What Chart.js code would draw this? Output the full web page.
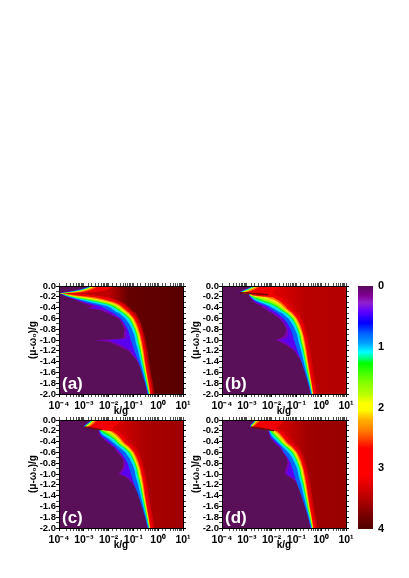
<!DOCTYPE html>
<html>
<head>
<meta charset="utf-8">
<title>Contour panels</title>
<script src="https://cdn.jsdelivr.net/npm/chart.js@4/dist/chart.umd.js"></script>
<style>
	html, body { margin: 0; padding: 0; background: #fff; }
	canvas { position: absolute; filter: blur(0.35px); }
</style>
</head>
<body>
<canvas id="panelA" style="left:0;top:276px"></canvas>
<canvas id="panelB" style="left:163px;top:276px"></canvas>
<canvas id="panelC" style="left:0;top:410px"></canvas>
<canvas id="panelD" style="left:163px;top:410px"></canvas>
<canvas id="colorBar" style="left:340px;top:276px"></canvas>
<script>
	// ===== DATA (contour positions are log10(k/g)) =====

	const rowsTop = [0, -0.03, -0.06, -0.09, -0.12, -0.135, -0.15, -0.18, -0.21, -0.26, -0.3, -0.34, -0.38, -0.41, -0.44, -0.47, -0.5];
	const rowsTail = [-0.6, -0.7, -0.8, -0.9, -0.96, -0.98, -1.0, -1.04, -1.1, -1.2, -1.4, -1.6, -1.8, -2.0];

	const bandLabels = ['P', 'V', 'B', 'C', 'G', 'L', 'Y', 'O', 'R', 'D1', 'D2'];
	const bandColors = ['#7a00b0', '#5a00f0', '#0064ff', '#00e4f0', '#10ff20', '#a0ff00', '#ffe000', '#ff7000', '#f00000'];

	// last two bands differ from panel to panel: a flat one, then a shade along k
	const darkColorA = '#b00000';
	const darkColorB = '#d80000';
	const darkColorC = '#d40000';
	const darkColorD = '#d00000';
	const shadeKA = [-2, -1.2, 0, 1];
	const shadeColorsA = ['#c00000', '#640000', '#600000', '#580000'];
	const shadeKB = [-1.6, -0.6, 1];
	const shadeColorsB = ['#d80000', '#b80000', '#b40000'];
	const shadeKC = [-1.6, -0.5, 1];
	const shadeColorsC = ['#d40000', '#aa0000', '#a00000'];
	const shadeKD = [-1.6, -0.5, 1];
	const shadeColorsD = ['#d00000', '#a00000', '#980000'];

	const aP = [-2.71, -2.88, -3.11, -3.42, -3.83, -4, -3.92, -3.78, -3.62, -3.33, -3.11, -2.92, -2.66, -2.86, -2.41, -2.21, -2.08];
	const aV = [-2.70, -2.87, -3.10, -3.40, -3.80, -4, -3.91, -3.77, -3.60, -3.27, -3.02, -2.75, -2.48, -2.75, -2.21, -2.01, -1.92];
	const aB = [-2.68, -2.86, -3.09, -3.37, -3.77, -4, -3.89, -3.76, -3.57, -3.22, -2.95, -2.62, -2.28, -2.15, -2.04, -1.92, -1.81];
	const aC = [-2.66, -2.83, -3.03, -3.30, -3.70, -3.99, -3.87, -3.72, -3.52, -3.09, -2.71, -2.35, -2.01, -1.90, -1.81, -1.72, -1.58];
	const aG = [-2.64, -2.79, -2.98, -3.22, -3.62, -3.99, -3.84, -3.66, -3.42, -2.88, -2.44, -2.08, -1.85, -1.74, -1.65, -1.55, -1.43];
	const aL = [-2.63, -2.76, -2.95, -3.18, -3.56, -3.97, -3.81, -3.61, -3.33, -2.71, -2.28, -1.94, -1.74, -1.65, -1.55, -1.47, -1.37];
	const aY = [-2.60, -2.71, -2.88, -3.11, -3.46, -3.96, -3.78, -3.54, -3.15, -2.48, -2.08, -1.81, -1.63, -1.55, -1.47, -1.39, -1.29];
	const aO = [-2.55, -2.66, -2.82, -3.02, -3.35, -3.92, -3.73, -3.42, -2.88, -2.28, -1.92, -1.70, -1.54, -1.47, -1.39, -1.31, -1.22];
	const aR = [-2.44, -2.52, -2.66, -2.84, -3.15, -3.84, -3.62, -3.19, -2.55, -2.08, -1.77, -1.59, -1.45, -1.38, -1.31, -1.23, -1.15];
	const aD1 = [-1.81, -1.88, -2.01, -2.15, -2.55, -3.35, -2.95, -2.41, -2.01, -1.74, -1.54, -1.41, -1.31, -1.23, -1.18, -1.10, -1.02];
	const aD2 = [-1.70, -1.78, -1.90, -2.05, -2.45, -3.20, -2.85, -2.30, -1.90, -1.62, -1.43, -1.30, -1.20, -1.12, -1.08, -1.00, -0.90];

	const bP = [-2.71, -2.88, -3.05, -3.19, -3.33, -3.15, -2.92, -2.91, -2.88, -2.79, -2.71, -2.58, -2.39, -2.35, -2.21, -2.12, -2.01];
	const bV = [-2.70, -2.87, -3.03, -3.18, -3.31, -3.15, -2.92, -2.90, -2.87, -2.76, -2.66, -2.50, -2.28, -2.21, -2.12, -2.04, -1.90];
	const bB = [-2.68, -2.86, -3.02, -3.17, -3.30, -3.14, -2.91, -2.88, -2.84, -2.74, -2.58, -2.39, -2.17, -2.08, -1.98, -1.88, -1.78];
	const bC = [-2.67, -2.83, -2.99, -3.14, -3.29, -3.14, -2.91, -2.87, -2.82, -2.68, -2.48, -2.25, -2.04, -1.93, -1.82, -1.72, -1.59];
	const bG = [-2.64, -2.79, -2.94, -3.10, -3.26, -3.13, -2.90, -2.86, -2.78, -2.55, -2.28, -2.04, -1.85, -1.74, -1.65, -1.55, -1.43];
	const bL = [-2.63, -2.76, -2.91, -3.06, -3.23, -3.13, -2.90, -2.84, -2.68, -2.35, -2.08, -1.90, -1.74, -1.65, -1.55, -1.47, -1.37];
	const bY = [-2.60, -2.72, -2.87, -3.02, -3.19, -3.11, -2.88, -2.82, -2.48, -2.08, -1.88, -1.74, -1.62, -1.55, -1.47, -1.39, -1.29];
	const bO = [-2.55, -2.66, -2.80, -2.94, -3.11, -3.11, -2.88, -2.76, -2.21, -1.88, -1.74, -1.63, -1.53, -1.47, -1.39, -1.31, -1.22];
	const bR = [-2.44, -2.55, -2.68, -2.82, -3.01, -3.11, -2.87, -2.62, -1.94, -1.74, -1.61, -1.53, -1.43, -1.38, -1.31, -1.23, -1.15];
	const bD1 = [-1.61, -1.74, -1.81, -1.88, -1.94, -1.94, -1.88, -1.81, -1.61, -1.47, -1.41, -1.34, -1.27, -1.23, -1.18, -1.10, -1.02];
	const bD2 = [-1.50, -1.60, -1.65, -1.70, -1.80, -1.80, -1.75, -1.65, -1.45, -1.30, -1.25, -1.20, -1.12, -1.08, -1.04, -0.96, -0.87];

	const cP = [-2.68, -2.78, -2.86, -2.95, -3.03, -2.95, -2.68, -2.41, -2.40, -2.37, -2.33, -2.24, -2.15, -2.06, -1.98, -1.90, -1.81];
	const cV = [-2.67, -2.76, -2.84, -2.94, -3.02, -2.95, -2.68, -2.41, -2.39, -2.36, -2.31, -2.20, -2.09, -2.01, -1.93, -1.85, -1.77];
	const cB = [-2.66, -2.75, -2.83, -2.92, -3.01, -2.94, -2.67, -2.40, -2.37, -2.33, -2.25, -2.12, -2.01, -1.94, -1.86, -1.80, -1.72];
	const cC = [-2.64, -2.74, -2.82, -2.91, -2.99, -2.93, -2.66, -2.39, -2.35, -2.28, -2.15, -2.01, -1.90, -1.82, -1.74, -1.66, -1.58];
	const cG = [-2.63, -2.71, -2.79, -2.88, -2.97, -2.92, -2.66, -2.39, -2.31, -2.15, -1.98, -1.85, -1.74, -1.69, -1.62, -1.54, -1.43];
	const cL = [-2.62, -2.68, -2.76, -2.86, -2.94, -2.92, -2.65, -2.37, -2.21, -2.01, -1.88, -1.77, -1.67, -1.62, -1.55, -1.47, -1.37];
	const cY = [-2.59, -2.66, -2.74, -2.82, -2.90, -2.91, -2.64, -2.36, -2.08, -1.88, -1.77, -1.67, -1.59, -1.54, -1.47, -1.39, -1.29];
	const cO = [-2.53, -2.60, -2.68, -2.75, -2.84, -2.90, -2.64, -2.35, -1.94, -1.77, -1.67, -1.59, -1.51, -1.46, -1.39, -1.31, -1.22];
	const cR = [-2.44, -2.52, -2.58, -2.66, -2.76, -2.90, -2.63, -2.33, -1.85, -1.67, -1.58, -1.51, -1.43, -1.38, -1.31, -1.23, -1.15];
	const cD1 = [-1.47, -1.54, -1.61, -1.67, -1.74, -1.81, -1.81, -1.77, -1.61, -1.47, -1.39, -1.34, -1.27, -1.23, -1.18, -1.10, -1.02];
	const cD2 = [-1.32, -1.40, -1.46, -1.52, -1.60, -1.66, -1.66, -1.62, -1.45, -1.30, -1.25, -1.20, -1.12, -1.08, -1.04, -0.96, -0.87];

	const dP = [-2.66, -2.72, -2.79, -2.86, -2.87, -2.78, -2.52, -2.15, -2.12, -2.10, -2.08, -2.05, -1.96, -1.90, -1.84, -1.78, -1.70];
	const dV = [-2.64, -2.71, -2.78, -2.84, -2.86, -2.77, -2.51, -2.14, -2.11, -2.09, -2.06, -2.04, -1.93, -1.88, -1.81, -1.74, -1.66];
	const dB = [-2.63, -2.70, -2.76, -2.83, -2.86, -2.76, -2.51, -2.13, -2.09, -2.08, -2.04, -1.98, -1.88, -1.82, -1.76, -1.69, -1.62];
	const dC = [-2.62, -2.68, -2.75, -2.82, -2.84, -2.76, -2.50, -2.12, -2.08, -2.04, -1.97, -1.90, -1.81, -1.74, -1.67, -1.61, -1.54];
	const dG = [-2.60, -2.67, -2.74, -2.80, -2.84, -2.75, -2.49, -2.12, -2.05, -1.97, -1.88, -1.80, -1.70, -1.65, -1.58, -1.51, -1.43];
	const dL = [-2.59, -2.66, -2.72, -2.79, -2.83, -2.74, -2.49, -2.11, -2.01, -1.90, -1.81, -1.73, -1.65, -1.59, -1.53, -1.46, -1.37];
	const dY = [-2.58, -2.63, -2.70, -2.76, -2.82, -2.74, -2.48, -2.10, -1.94, -1.82, -1.73, -1.65, -1.58, -1.53, -1.47, -1.39, -1.29];
	const dO = [-2.53, -2.59, -2.66, -2.72, -2.79, -2.73, -2.47, -2.10, -1.85, -1.73, -1.65, -1.58, -1.50, -1.45, -1.39, -1.31, -1.22];
	const dR = [-2.45, -2.49, -2.58, -2.64, -2.72, -2.72, -2.47, -2.09, -1.77, -1.65, -1.57, -1.50, -1.43, -1.38, -1.31, -1.23, -1.15];
	const dD1 = [-1.47, -1.54, -1.61, -1.67, -1.74, -1.81, -1.81, -1.77, -1.58, -1.47, -1.39, -1.34, -1.27, -1.23, -1.18, -1.10, -1.02];
	const dD2 = [-1.32, -1.40, -1.46, -1.52, -1.60, -1.66, -1.66, -1.62, -1.45, -1.30, -1.25, -1.20, -1.12, -1.08, -1.04, -0.96, -0.87];

	// below y = -0.5 the steep edge is the same in all panels, only the purple lobe moves
	const tailB = [-1.51, -1.35, -1.23, -1.16, -1.12, -1.11, -1.10, -1.07, -1.03, -0.96, -0.80, -0.66, -0.53, -0.42];
	const tailC = [-1.32, -1.17, -1.06, -0.97, -0.94, -0.93, -0.92, -0.90, -0.87, -0.81, -0.71, -0.60, -0.49, -0.39];
	const tailG = [-1.19, -1.06, -0.96, -0.89, -0.86, -0.85, -0.84, -0.82, -0.79, -0.74, -0.65, -0.56, -0.46, -0.37];
	const tailL = [-1.13, -1.02, -0.92, -0.85, -0.82, -0.81, -0.80, -0.78, -0.75, -0.70, -0.62, -0.53, -0.44, -0.36];
	const tailY = [-1.08, -0.97, -0.88, -0.81, -0.78, -0.77, -0.76, -0.74, -0.71, -0.67, -0.59, -0.50, -0.42, -0.35];
	const tailO = [-1.02, -0.92, -0.83, -0.76, -0.73, -0.72, -0.71, -0.69, -0.67, -0.63, -0.56, -0.48, -0.40, -0.33];
	const tailR = [-0.97, -0.86, -0.78, -0.72, -0.69, -0.68, -0.67, -0.65, -0.63, -0.59, -0.53, -0.46, -0.38, -0.31];
	const tailD1 = [-0.86, -0.76, -0.69, -0.63, -0.60, -0.59, -0.58, -0.56, -0.54, -0.50, -0.44, -0.37, -0.29, -0.22];
	const tailD2 = [-0.78, -0.69, -0.62, -0.56, -0.53, -0.52, -0.51, -0.49, -0.47, -0.43, -0.37, -0.30, -0.22, -0.15];

	const aTailP = [-1.61, -1.45, -1.36, -1.39, -1.38, -1.60, -2.60, -1.95, -1.66, -1.20, -0.84, -0.64, -0.51, -0.45];
	const aTailV = [-1.53, -1.40, -1.29, -1.27, -1.29, -1.36, -2.00, -1.75, -1.45, -1.12, -0.81, -0.62, -0.50, -0.43];
	const bTailP = [-1.71, -1.52, -1.41, -1.46, -1.60, -1.73, -1.85, -1.64, -1.38, -1.10, -0.80, -0.62, -0.50, -0.45];
	const bTailV = [-1.61, -1.45, -1.35, -1.32, -1.40, -1.50, -1.67, -1.45, -1.29, -1.04, -0.78, -0.61, -0.50, -0.43];
	const cTailP = [-1.64, -1.45, -1.39, -1.44, -1.53, -1.57, -1.61, -1.37, -1.20, -1.01, -0.76, -0.62, -0.50, -0.45];
	const cTailV = [-1.55, -1.40, -1.32, -1.35, -1.43, -1.46, -1.51, -1.27, -1.10, -0.96, -0.74, -0.61, -0.50, -0.43];
	const dTailP = [-1.55, -1.41, -1.35, -1.44, -1.47, -1.47, -1.48, -1.33, -1.12, -0.94, -0.72, -0.58, -0.49, -0.45];
	const dTailV = [-1.48, -1.36, -1.29, -1.32, -1.37, -1.38, -1.40, -1.24, -1.05, -0.89, -0.70, -0.57, -0.49, -0.43];

	// dark ridge under the upper wedge
	const bRidgeY = [-0.125, -0.13, -0.14, -0.15, -0.16];
	const bRidgeK = [-3.28, -3.0, -2.8, -2.5, -2.15];
	const cRidgeY = [-0.13, -0.14, -0.16, -0.18];
	const cRidgeK = [-2.98, -2.8, -2.55, -2.28];
	const dRidgeY = [-0.13, -0.15, -0.18, -0.2];
	const dRidgeK = [-2.82, -2.55, -2.1, -1.9];

	const colorBarRange = [0, 4];
	const colorBarTicks = [0, 1, 2, 3, 4];
	const colorBarStops = [0, 0.15, 0.28, 0.42, 0.61, 0.78, 0.94, 1.09, 1.19, 1.27, 1.58, 1.8, 1.93, 2.04, 2.2, 2.37, 2.53, 2.67, 3.11, 3.33, 3.52, 3.74, 4];
	const colorBarColors = ['#560a5c', '#800090', '#9020d0', '#6000ff', '#0000ff', '#0060ff', '#00a0ff', '#00ffff', '#00ff80', '#00ff00', '#80ff00', '#c0ff00', '#ffff00', '#ffff00', '#ffb000', '#ff8000', '#ff4000', '#ff0000', '#ff0000', '#d80000', '#b00000', '#800000', '#500000'];

	const xMajorLabels = { '-4': '10⁻⁴', '-3': '10⁻³', '-2': '10⁻²', '-1': '10⁻¹', '0': '10⁰', '1': '10¹' };
	const plotBackground = '#5a1058';
	const fontFamily = '"Liberation Sans", Arial, sans-serif';

	// ===== PANELS =====

	function xTickLabel(value) {
		const exp = Math.round(Math.log10(value));
		if (Math.abs(Math.log10(value) - exp) > 1e-6) return '';
		return xMajorLabels[exp];
	}

	function yTickLabel(value) {
		const tenth = Math.round(value * 10);
		if (tenth % 2 !== 0) return '';
		return (tenth === 0 ? 0 : tenth / 10).toFixed(1);
	}

	const tickWidth = ctx => (ctx.tick && ctx.tick.label !== '' ? 1 : 0.7);

	function fixHeight(h) {
		return axis => {
			axis.height = h;
			axis.paddingLeft = axis.paddingRight = 0;
		};
	}

	function fixWidth(w) {
		return axis => {
			axis.width = w;
			axis.paddingTop = axis.paddingBottom = 0;
		};
	}

	const panelPlugin = {
		id: 'panelPlugin',
		beforeDatasetsDraw(chart) {
			const { ctx, chartArea: a } = chart;
			ctx.save();
			ctx.fillStyle = plotBackground;
			ctx.fillRect(a.left, a.top, a.right - a.left, a.bottom - a.top);
			ctx.restore();
		},
		afterDatasetsDraw(chart, args, opts) {
			const { ctx, chartArea: a } = chart;
			ctx.save();
			ctx.fillStyle = '#fff';
			ctx.font = 'bold 17px ' + fontFamily;
			ctx.textBaseline = 'middle';
			ctx.fillText(opts.tag, a.left + 3, a.bottom - 10);
			ctx.restore();
		}
	};

	function xyPoints(rows, logK) {
		return rows.map((y, i) => ({ x: Math.pow(10, logK[i]), y: y }));
	}

	// horizontal shade for the last band, placed through the k scale
	function shadeFill(shadeK, shadeColors) {
		return context => {
			const chart = context.chart;
			if (!chart.chartArea) return shadeColors[0];
			const x = chart.scales.x;
			const x0 = x.getPixelForValue(Math.pow(10, shadeK[0]));
			const x1 = x.getPixelForValue(Math.pow(10, shadeK[shadeK.length - 1]));
			const grad = chart.ctx.createLinearGradient(x0, 0, x1, 0);
			shadeK.forEach((k, i) => grad.addColorStop((k - shadeK[0]) / (shadeK[shadeK.length - 1] - shadeK[0]), shadeColors[i]));
			return grad;
		};
	}

	function makePanel(id, tag, top, tail, darkColor, shadeK, shadeColors, ridgeY, ridgeK) {
		const canvas = document.getElementById(id);
		canvas.width = 196;
		canvas.height = 141;

		const colors = bandColors.concat([darkColor, shadeFill(shadeK, shadeColors)]);
		const rows = rowsTop.concat(rowsTail);
		const datasets = bandLabels.map((name, i) => ({
			label: name,
			data: xyPoints(rows, top[i].concat(tail[i])),
			xAxisID: 'x',
			yAxisID: 'y',
			order: 100 - i,
			borderWidth: 0,
			pointRadius: 0,
			tension: 0,
			backgroundColor: colors[i],
			fill: { value: 10 }
		}));

		if (ridgeY) {
			datasets.push({
				label: 'ridge',
				data: xyPoints(ridgeY, ridgeK),
				xAxisID: 'x',
				yAxisID: 'y',
				order: 1,
				borderColor: '#780000',
				borderWidth: 1.5,
				pointRadius: 0,
				tension: 0,
				fill: false
			});
		}

		const yFont = { family: fontFamily, weight: 'bold', size: 9.5 };
		const xFont = { family: fontFamily, weight: 'bold', size: 10.5 };

		return new Chart(canvas, {
			type: 'line',
			data: { datasets: datasets },
			plugins: [panelPlugin],
			options: {
				indexAxis: 'y',
				responsive: false,
				animation: false,
				devicePixelRatio: 1,
				layout: { padding: 0 },
				plugins: {
					legend: { display: false },
					tooltip: { enabled: false },
					panelPlugin: { tag: tag }
				},
				scales: {
					x: {
						type: 'logarithmic',
						position: 'bottom',
						min: 1e-4,
						max: 10,
						afterFit: fixHeight(23),
						border: { color: '#000', width: 1, z: 2 },
						grid: { drawOnChartArea: false, color: '#000', tickLength: 3, tickWidth: tickWidth },
						ticks: { autoSkip: false, maxRotation: 0, padding: 3, color: '#000', font: xFont, callback: xTickLabel },
						title: { display: true, text: 'k/g', color: '#000', font: { family: fontFamily, weight: 'bold', size: 10 }, padding: { top: 0, bottom: 0 } }
					},
					xTop: {
						type: 'logarithmic',
						axis: 'x',
						position: 'top',
						min: 1e-4,
						max: 10,
						afterFit: fixHeight(10),
						border: { color: '#000', width: 1, z: 2 },
						grid: { drawOnChartArea: false, color: '#000', tickLength: 3, tickWidth: tickWidth },
						ticks: { autoSkip: false, maxRotation: 0, padding: 0, callback: () => '' }
					},
					y: {
						type: 'linear',
						position: 'left',
						min: -2,
						max: 0,
						afterFit: fixWidth(59),
						border: { color: '#000', width: 1, z: 2 },
						grid: { drawOnChartArea: false, color: '#000', tickLength: 3, tickWidth: tickWidth },
						ticks: { stepSize: 0.1, autoSkip: false, padding: 0, color: '#000', font: yFont, callback: yTickLabel },
						title: { display: true, text: '(μ-ω₀)/g', color: '#000', font: { family: fontFamily, weight: 'bold', size: 10 }, padding: { top: 27, bottom: 0 } }
					},
					yRight: {
						type: 'linear',
						axis: 'y',
						position: 'right',
						min: -2,
						max: 0,
						afterFit: fixWidth(13),
						border: { color: '#000', width: 1, z: 2 },
						grid: { drawOnChartArea: false, color: '#000', tickLength: 3, tickWidth: tickWidth },
						ticks: { stepSize: 0.1, autoSkip: false, padding: 0, callback: yTickLabel, color: 'rgba(0,0,0,0)', font: { size: 1 } }
					}
				}
			}
		});
	}

	makePanel('panelA', '(a)',
		[aP, aV, aB, aC, aG, aL, aY, aO, aR, aD1, aD2],
		[aTailP, aTailV, tailB, tailC, tailG, tailL, tailY, tailO, tailR, tailD1, tailD2],
		darkColorA, shadeKA, shadeColorsA);
	makePanel('panelB', '(b)',
		[bP, bV, bB, bC, bG, bL, bY, bO, bR, bD1, bD2],
		[bTailP, bTailV, tailB, tailC, tailG, tailL, tailY, tailO, tailR, tailD1, tailD2],
		darkColorB, shadeKB, shadeColorsB, bRidgeY, bRidgeK);
	makePanel('panelC', '(c)',
		[cP, cV, cB, cC, cG, cL, cY, cO, cR, cD1, cD2],
		[cTailP, cTailV, tailB, tailC, tailG, tailL, tailY, tailO, tailR, tailD1, tailD2],
		darkColorC, shadeKC, shadeColorsC, cRidgeY, cRidgeK);
	makePanel('panelD', '(d)',
		[dP, dV, dB, dC, dG, dL, dY, dO, dR, dD1, dD2],
		[dTailP, dTailV, tailB, tailC, tailG, tailL, tailY, tailO, tailR, tailD1, tailD2],
		darkColorD, shadeKD, shadeColorsD, dRidgeY, dRidgeK);

	// ===== COLOR BAR =====

	function colorBarFill(context) {
		const chart = context.chart;
		if (!chart.chartArea) return colorBarColors[0];
		const y = chart.scales.y;
		const grad = chart.ctx.createLinearGradient(0, y.getPixelForValue(0), 0, y.getPixelForValue(4));
		colorBarStops.forEach((v, i) => grad.addColorStop(v / 4, colorBarColors[i]));
		return grad;
	}

	const barCanvas = document.getElementById('colorBar');
	barCanvas.width = 69;
	barCanvas.height = 265;

	new Chart(barCanvas, {
		type: 'bar',
		data: {
			labels: ['E'],
			datasets: [{ data: [colorBarRange], backgroundColor: colorBarFill, barPercentage: 1, categoryPercentage: 1, borderWidth: 0 }]
		},
		options: {
			responsive: false,
			animation: false,
			devicePixelRatio: 1,
			layout: { padding: { left: 18, top: 10, bottom: 12 } },
			plugins: { legend: { display: false }, tooltip: { enabled: false } },
			scales: {
				x: { display: false },
				y: {
					type: 'linear',
					position: 'right',
					reverse: true,
					min: colorBarRange[0],
					max: colorBarRange[1],
					afterFit: fixWidth(36),
					border: { display: false },
					grid: { display: false, drawTicks: false },
					afterBuildTicks: axis => { axis.ticks = colorBarTicks.map(v => ({ value: v })); },
					ticks: { padding: 5, color: '#000', font: { family: fontFamily, weight: 'bold', size: 11 } }
				}
			}
		}
	});
</script>
</body>
</html>
